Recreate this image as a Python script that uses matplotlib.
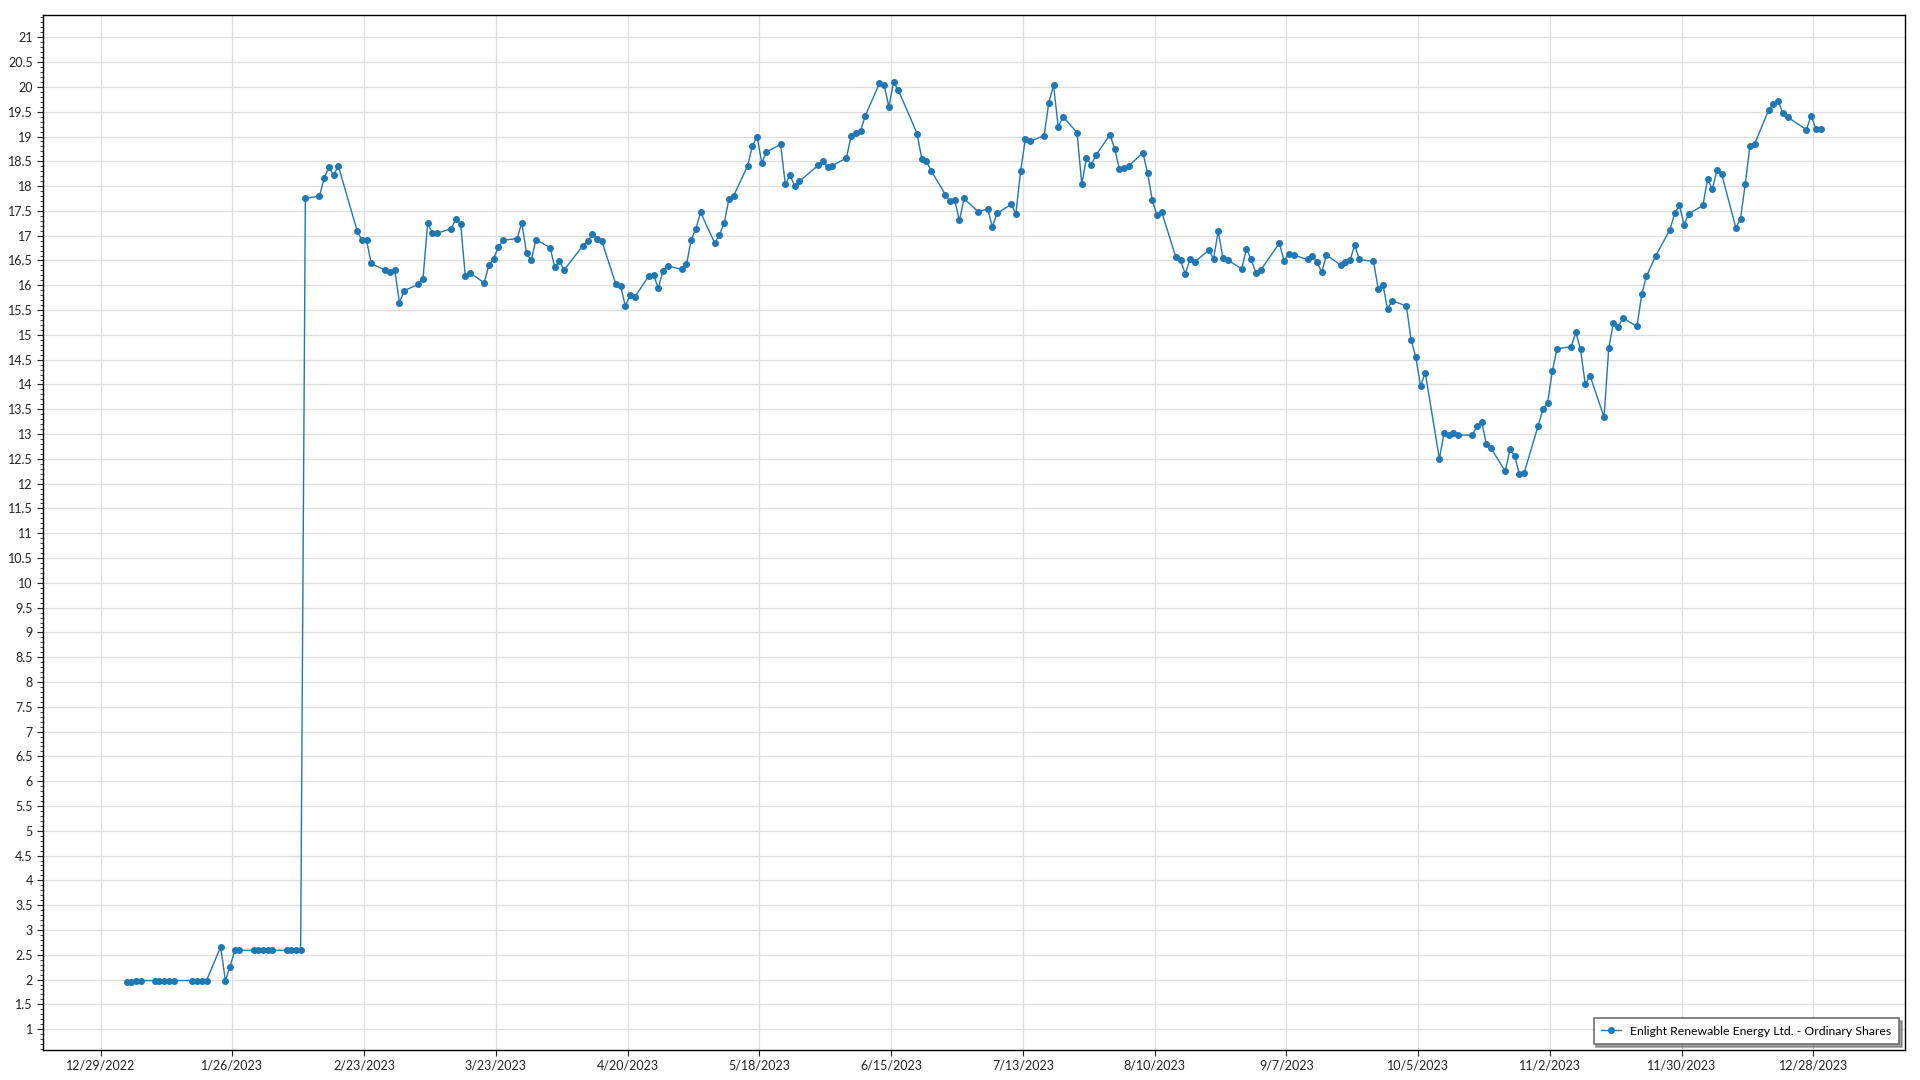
import datetime as dt

import matplotlib
matplotlib.use("Agg")
import matplotlib.pyplot as plt
from matplotlib.ticker import MultipleLocator, FuncFormatter

plt.rcParams['font.family'] = ['Lato', 'DejaVu Sans']

series_name = "Enlight Renewable Energy Ltd. - Ordinary Shares"

# trading days of 2023 (MM-DD) and closing prices
trade_days = [
    "01-03", "01-04", "01-05", "01-06", "01-09", "01-10", "01-11", "01-12", "01-13",
    "01-17", "01-18", "01-19", "01-20", "01-23", "01-24", "01-25", "01-26", "01-27",
    "01-30", "01-31",
    "02-01", "02-02", "02-03", "02-06", "02-07", "02-08", "02-09", "02-10", "02-13",
    "02-14", "02-15", "02-16", "02-17", "02-21", "02-22", "02-23", "02-24", "02-27",
    "02-28",
    "03-01", "03-02", "03-03", "03-06", "03-07", "03-08", "03-09", "03-10", "03-13",
    "03-14", "03-15", "03-16", "03-17", "03-20", "03-21", "03-22", "03-23", "03-24",
    "03-27", "03-28", "03-29", "03-30", "03-31",
    "04-03", "04-04", "04-05", "04-06", "04-10", "04-11", "04-12", "04-13", "04-14",
    "04-17", "04-18", "04-19", "04-20", "04-21", "04-24", "04-25", "04-26", "04-27",
    "04-28",
    "05-01", "05-02", "05-03", "05-04", "05-05", "05-08", "05-09", "05-10", "05-11",
    "05-12", "05-15", "05-16", "05-17", "05-18", "05-19", "05-22", "05-23", "05-24",
    "05-25", "05-26", "05-30", "05-31",
    "06-01", "06-02", "06-05", "06-06", "06-07", "06-08", "06-09", "06-12", "06-13",
    "06-14", "06-15", "06-16", "06-20", "06-21", "06-22", "06-23", "06-26", "06-27",
    "06-28", "06-29", "06-30",
    "07-03", "07-05", "07-06", "07-07", "07-10", "07-11", "07-12", "07-13", "07-14",
    "07-17", "07-18", "07-19", "07-20", "07-21", "07-24", "07-25", "07-26", "07-27",
    "07-28", "07-31",
    "08-01", "08-02", "08-03", "08-04", "08-07", "08-08", "08-09", "08-10", "08-11",
    "08-14", "08-15", "08-16", "08-17", "08-18", "08-21", "08-22", "08-23", "08-24",
    "08-25", "08-28", "08-29", "08-30", "08-31",
    "09-01", "09-05", "09-06", "09-07", "09-08", "09-11", "09-12", "09-13", "09-14",
    "09-15", "09-18", "09-19", "09-20", "09-21", "09-22", "09-25", "09-26", "09-27",
    "09-28", "09-29",
    "10-02", "10-03", "10-04", "10-05", "10-06", "10-09", "10-10", "10-11", "10-12",
    "10-13", "10-16", "10-17", "10-18", "10-19", "10-20", "10-23", "10-24", "10-25",
    "10-26", "10-27", "10-30", "10-31",
    "11-01", "11-02", "11-03", "11-06", "11-07", "11-08", "11-09", "11-10", "11-13",
    "11-14", "11-15", "11-16", "11-17", "11-20", "11-21", "11-22", "11-24", "11-27",
    "11-28", "11-29", "11-30",
    "12-01", "12-04", "12-05", "12-06", "12-07", "12-08", "12-11", "12-12", "12-13",
    "12-14", "12-15", "12-18", "12-19", "12-20", "12-21", "12-22", "12-26", "12-27",
    "12-28", "12-29",
]

close_prices = [
    1.95, 1.95, 1.98, 1.98, 1.98, 1.98, 1.98, 1.98, 1.98,
    1.98, 1.98, 1.98, 1.98, 2.66, 1.98, 2.26, 2.59, 2.59,
    2.59, 2.59,
    2.59, 2.59, 2.59, 2.59, 2.59, 2.59, 2.59, 17.75, 17.80,
    18.16, 18.38, 18.22, 18.41, 17.10, 16.91, 16.91, 16.44, 16.30,
    16.27,
    16.31, 15.65, 15.89, 16.02, 16.13, 17.26, 17.05, 17.05, 17.14,
    17.34, 17.24, 16.18, 16.25, 16.05, 16.40, 16.53, 16.77, 16.91,
    16.94, 17.26, 16.65, 16.50, 16.92,
    16.76, 16.37, 16.48, 16.31, 16.80, 16.89, 17.03, 16.94, 16.89,
    16.02, 15.99, 15.58, 15.80, 15.76, 16.19, 16.21, 15.94, 16.29,
    16.39,
    16.32, 16.42, 16.92, 17.14, 17.47, 16.85, 17.02, 17.25, 17.73,
    17.80, 18.41, 18.81, 19.00, 18.47, 18.69, 18.84, 18.04, 18.22,
    18.00, 18.10, 18.42, 18.51,
    18.38, 18.41, 18.57, 19.02, 19.08, 19.12, 19.42, 20.07, 20.04,
    19.60, 20.09, 19.94, 19.06, 18.55, 18.50, 18.31, 17.83, 17.69,
    17.71, 17.31, 17.75,
    17.48, 17.54, 17.18, 17.45, 17.63, 17.44, 18.30, 18.94, 18.90,
    19.02, 19.68, 20.04, 19.19, 19.40, 19.08, 18.04, 18.57, 18.43,
    18.62, 19.04,
    18.75, 18.35, 18.36, 18.41, 18.67, 18.26, 17.71, 17.41, 17.47,
    16.57, 16.50, 16.23, 16.53, 16.47, 16.71, 16.53, 17.09, 16.55,
    16.51, 16.33, 16.74, 16.52, 16.25,
    16.30, 16.85, 16.49, 16.64, 16.61, 16.52, 16.60, 16.47, 16.26,
    16.61, 16.41, 16.46, 16.50, 16.81, 16.52, 16.48, 15.93, 16.01,
    15.52, 15.69,
    15.58, 14.89, 14.55, 13.97, 14.24, 12.50, 13.02, 12.98, 13.02,
    12.98, 12.98, 13.16, 13.24, 12.79, 12.71, 12.25, 12.69, 12.56,
    12.19, 12.21, 13.17, 13.50,
    13.63, 14.27, 14.72, 14.76, 15.05, 14.71, 14.00, 14.18, 13.34,
    14.74, 15.24, 15.16, 15.34, 15.17, 15.82, 16.18, 16.60, 17.12,
    17.45, 17.62, 17.22,
    17.44, 17.61, 18.14, 17.94, 18.32, 18.24, 17.16, 17.34, 18.04,
    18.81, 18.85, 19.54, 19.66, 19.72, 19.47, 19.39, 19.14, 19.42,
    19.16, 19.15,
]

# points sit half a day right of their date tick
dates = [dt.datetime.strptime("2023-" + d, "%Y-%m-%d") + dt.timedelta(hours=12)
         for d in trade_days]

fig = plt.figure(figsize=(19.2, 10.8), dpi=100)
ax = fig.add_axes([0.0222, 0.0278, 0.9700, 0.9583])

ax.plot(dates, close_prices, color='#1f77b4', lw=1, marker='o', ms=4,
        label=series_name)

ax.set_xlim(dt.datetime(2022, 12, 16, 16), dt.datetime(2024, 1, 16, 11))
ax.set_ylim(0.58, 21.45)

ax.yaxis.set_major_locator(MultipleLocator(0.5))
ax.yaxis.set_minor_locator(MultipleLocator(0.1))
ax.yaxis.set_major_formatter(FuncFormatter(lambda v, p: f"{v:g}"))

ticks = [dt.datetime(2022, 12, 29) + dt.timedelta(days=28 * i) for i in range(14)]
ax.set_xticks(ticks)
ax.set_xticklabels([f"{t.month}/{t.day}/{t.year}" for t in ticks])

ax.tick_params(which='major', length=4, width=0.8, labelsize=9, pad=3, colors='#222222')
ax.tick_params(which='minor', length=2, width=0.6, colors='#222222')
ax.grid(True, which='major', color='#dedede', lw=0.9)
ax.set_axisbelow(True)
for s in ax.spines.values():
    s.set_color('black')
    s.set_linewidth(1)

leg = ax.legend(loc='lower right', fontsize=8.8, numpoints=1, handlelength=1.6,
                fancybox=False, shadow=True, framealpha=1, borderpad=0.6)
leg.get_frame().set_edgecolor('#6e6e6e')
leg.get_frame().set_linewidth(1.2)

fig.savefig('out.png', dpi=100)
